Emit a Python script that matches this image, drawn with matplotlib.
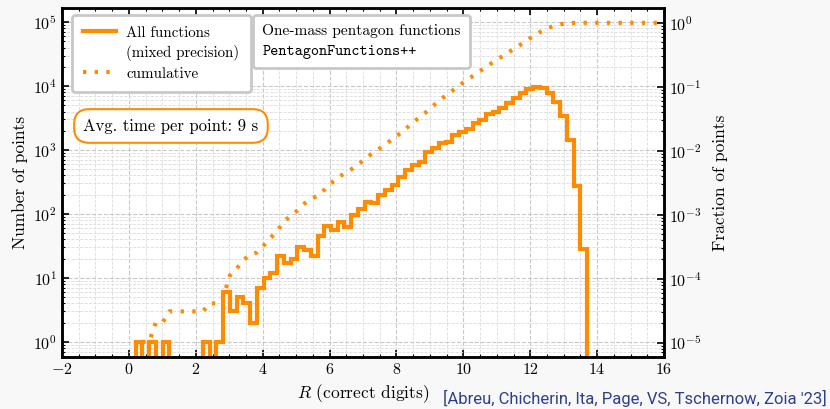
import numpy as np
import matplotlib
matplotlib.use("Agg")
import matplotlib.pyplot as plt
from matplotlib.lines import Line2D
from matplotlib.ticker import MultipleLocator, LogLocator, NullFormatter

plt.rcParams["font.family"] = "cmr10"
plt.rcParams["mathtext.fontset"] = "cm"
plt.rcParams["axes.formatter.use_mathtext"] = True

# histogram of correct digits R (bin edges spread evenly between r_min and r_max)
r_min, r_max = 0.2, 13.7
counts = [
    1, 0, 1, 0, 1, 0, 0, 0, 0, 0,
    1, 0, 1, 6, 3, 5, 4, 2, 7, 10,
    12, 22, 17, 20, 31, 27, 22, 45, 65, 57,
    76, 62, 96, 118, 156, 147, 198, 237, 285, 372,
    485, 580, 655, 935, 1060, 1270, 1340, 1730, 1930, 2160,
    2620, 2930, 3600, 3960, 4480, 5370, 6400, 7700, 8900, 9600,
    9200, 7700, 5700, 3350, 1450, 270, 28,
]
x_min, x_max = -2, 16

edges = np.linspace(r_min, r_max, len(counts) + 1)
counts = np.array(counts)
total = counts.sum()
cum_frac = np.cumsum(counts) / total
# cumulative curve, carried on flat to the right end of the axis
cum_x = np.append(edges[1:], x_max)
cum_y = np.append(cum_frac, cum_frac[-1])

orange = "#ff8c00"
ylim = (0.58, 1.66e5)
dots = (0, (0.8, 2.0))

fig = plt.figure(figsize=(8.3, 4.09), dpi=100, facecolor="#f8f8f8")
ax = fig.add_axes([0.0747, 0.1271, 0.7253, 0.8533])
ax2 = ax.twinx()

ax.stairs(counts, edges, color=orange, lw=3)
ax2.plot(cum_x, cum_y, color=orange, lw=3, ls=dots)

ax.set_yscale("log")
ax2.set_yscale("log")
ax.set_xlim(x_min, x_max)
ax.set_ylim(*ylim)
ax2.set_ylim(ylim[0] / total, ylim[1] / total)

ax.xaxis.set_major_locator(MultipleLocator(2))
ax.xaxis.set_minor_locator(MultipleLocator(0.5))
for a in (ax, ax2):
    a.yaxis.set_major_locator(LogLocator(base=10, numticks=20))
    a.yaxis.set_minor_locator(LogLocator(base=10, subs=np.arange(2, 10), numticks=20))
    a.yaxis.set_minor_formatter(NullFormatter())
    a.tick_params(which="both", direction="in", labelsize=11.5)
    a.tick_params(which="major", length=5, width=1.2)
    a.tick_params(which="minor", length=2.5, width=0.8)
    for s in a.spines.values():
        s.set_linewidth(1.8)
ax.tick_params(which="both", top=True)

ax.grid(which="major", color="#c8c8c8", ls="--", lw=0.8)
ax.grid(which="minor", color="#dcdcdc", ls="--", lw=0.6)
ax.set_axisbelow(True)

ax.set_xlabel("$R$ (correct digits)", fontsize=12.5)
ax.set_ylabel("Number of points", fontsize=12.5)
ax2.set_ylabel("Fraction of points", fontsize=12.5, labelpad=8)

handles = [
    Line2D([], [], color=orange, lw=3),
    Line2D([], [], color="none"),
    Line2D([], [], color=orange, lw=3, ls=dots),
]
labels = ["All functions", "(mixed precision)", "cumulative"]
leg = ax2.legend(handles, labels, loc="upper left", bbox_to_anchor=(0.017, 0.981),
                 borderaxespad=0, fontsize=10.8, fancybox=True, framealpha=1,
                 handlelength=2.2, handletextpad=0.65, labelspacing=0.38,
                 borderpad=0.75)
leg.get_frame().set_edgecolor("#c8c8c8")
leg.get_frame().set_linewidth(2)
ax2.add_artist(leg)

blank = [Line2D([], [], color="none"), Line2D([], [], color="none")]
leg2 = ax2.legend(blank, ["One-mass pentagon functions", "PentagonFunctions++"],
                  loc="upper left", bbox_to_anchor=(0.317, 0.981), borderaxespad=0,
                  fontsize=11.1, fancybox=True, framealpha=1, handlelength=0,
                  handletextpad=0, labelspacing=0.38, borderpad=0.62)
leg2.get_frame().set_edgecolor("#c8c8c8")
leg2.get_frame().set_linewidth(2)
leg2.get_texts()[1].set_family("cmtt10")

ax2.text(0.181, 0.662, "Avg. time per point: 9 s", transform=ax.transAxes,
         fontsize=12, va="center", ha="center",
         bbox=dict(boxstyle="round,pad=0.55,rounding_size=0.9", fc="white",
                   ec=orange, lw=1.5))

fig.text(0.996, 0.006, "[Abreu, Chicherin, Ita, Page, VS, Tschernow, Zoia '23]",
         ha="right", va="bottom", fontsize=12, color="#2e3f8f",
         family=["Roboto", "DejaVu Sans"])

fig.savefig("out.png", dpi=100, facecolor=fig.get_facecolor())
